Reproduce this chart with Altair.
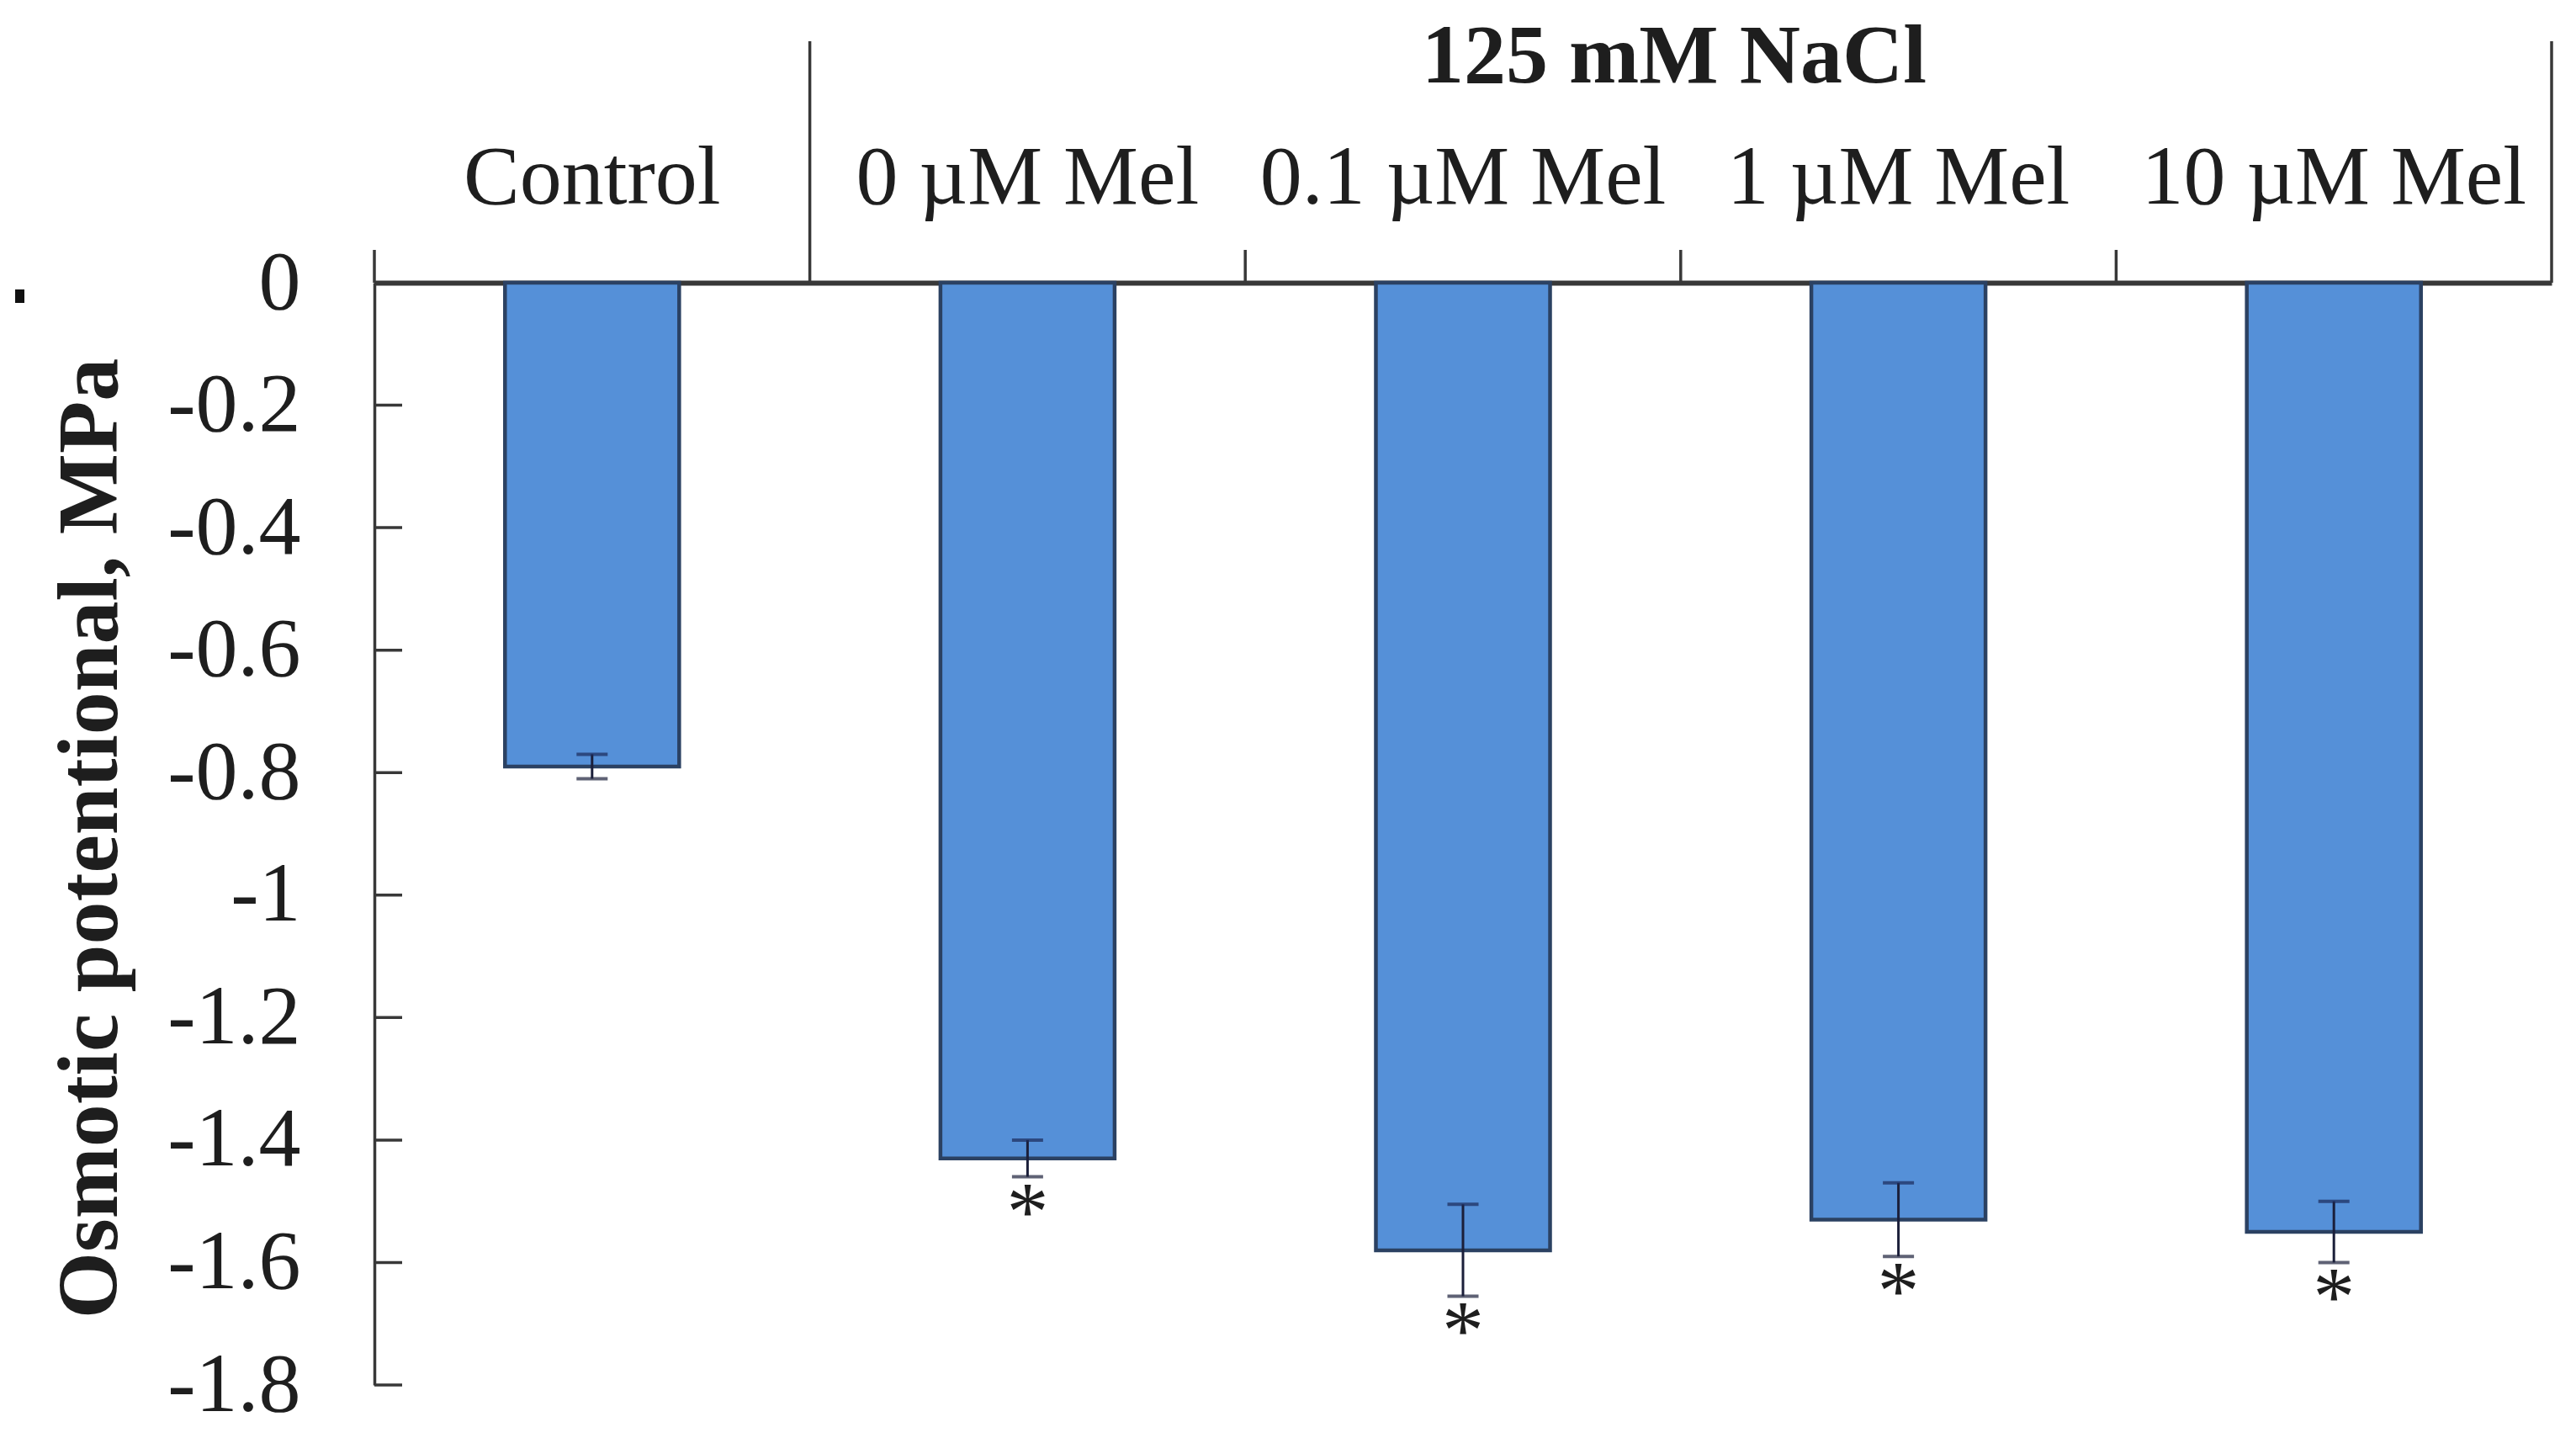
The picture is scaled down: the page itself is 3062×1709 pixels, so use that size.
import altair as alt
import pandas as pd

categories = ["Control", "0 µM Mel", "0.1 µM Mel", "1 µM Mel", "10 µM Mel"]
values = [-0.79, -1.43, -1.58, -1.53, -1.55]
errors = [0.02, 0.03, 0.075, 0.06, 0.05]
significance = ["", "*", "*", "*", "*"]
y_ticks = [0, -0.2, -0.4, -0.6, -0.8, -1.0, -1.2, -1.4, -1.6, -1.8]
group_label = "125 mM NaCl"
y_title = "Osmotic potentional, MPa"

FONT = "Liberation Serif"
INK = "#1e1e1e"
AXIS = "#383838"

df = pd.DataFrame({"cat": categories, "value": values, "err": errors, "sig": significance})
df["low"] = df["value"] - df["err"]
df["high"] = df["value"] + df["err"]
ticks_df = pd.DataFrame({"t": y_ticks})

W, H = 2588, 1310
PAD_INNER = 0.6
# half the gap between bars, in pixels: band edges sit this far outside each bar
HALF_GAP = (W / len(categories)) * PAD_INNER / 2

xscale = alt.Scale(domain=categories, paddingInner=PAD_INNER, paddingOuter=PAD_INNER / 2)
yscale = alt.Scale(domain=[-1.8, 0], nice=False, zero=False)

x_axis = alt.Axis(
    orient="top", title=None, labelAngle=0, labelFont=FONT, labelFontSize=100,
    labelColor=INK, labelPadding=95, labelBaseline="alphabetic", labelLimit=0,
    ticks=False, tickSize=0, domain=True, domainWidth=6, domainColor=AXIS, grid=False)
y_axis = alt.Axis(
    orient="left", values=y_ticks, title=y_title, grid=False, ticks=False, tickSize=0,
    labelExpr="datum.value == 0 ? '0' : '-' + format(-datum.value, '~g')",
    labelFont=FONT, labelFontSize=100, labelColor=INK, labelPadding=88, labelLimit=0,
    domain=True, domainWidth=3.5, domainColor=AXIS,
    titleFont=FONT, titleFontSize=102, titleFontWeight="bold", titleColor=INK,
    titleAngle=-90, titleX=-338, titleY=660, titleAlign="center",
    titleBaseline="middle", titleLimit=0)


def X(field="cat:N", **kw):
    return alt.X(field, sort=categories, scale=xscale, axis=x_axis, **kw)


def Y(field, **kw):
    return alt.Y(field, scale=yscale, axis=y_axis, **kw)


base = alt.Chart(df)

bars = base.mark_bar(color="#5590D8", stroke="#2B4162", strokeWidth=4.5).encode(
    x=X(), y=Y("value:Q"),
)

ytick_rules = alt.Chart(ticks_df).mark_rule(color=AXIS, strokeWidth=3.5).encode(
    y=Y("t:Q"), x=alt.value(0), x2=alt.value(33),
)

short_cats = pd.DataFrame({"cat": ["Control", "0.1 µM Mel", "1 µM Mel", "10 µM Mel"]})
short_ticks = alt.Chart(short_cats).mark_rule(
    color=AXIS, strokeWidth=3.5, xOffset=-HALF_GAP).encode(
    x=X(bandPosition=0), y=alt.value(-39), y2=alt.value(0),
)

long_start = alt.Chart(pd.DataFrame({"cat": ["0 µM Mel"]})).mark_rule(
    color=AXIS, strokeWidth=3.5, xOffset=-HALF_GAP).encode(
    x=X(bandPosition=0), y=alt.value(-287), y2=alt.value(0),
)
long_end = alt.Chart(pd.DataFrame({"cat": ["10 µM Mel"]})).mark_rule(
    color=AXIS, strokeWidth=3.5, xOffset=HALF_GAP).encode(
    x=X(bandPosition=1), y=alt.value(-287), y2=alt.value(0),
)

err_rule = base.mark_rule(color="#1b1f3a", strokeWidth=3).encode(
    x=X(), y=Y("low:Q"), y2="high:Q",
)
cap_low = base.mark_tick(color="#1b1f3a", size=37, thickness=4).encode(
    x=X(), y=Y("low:Q"),
)
cap_high = base.mark_tick(color="#1b2a5a", size=37, thickness=4).encode(
    x=X(), y=Y("high:Q"),
)

stars = base.mark_text(font=FONT, fontSize=100, color=INK, baseline="top", dy=-5).encode(
    x=X(), y=Y("low:Q"), text="sig:N",
)

group_text = alt.Chart(pd.DataFrame({"label": [group_label]})).mark_text(
    font=FONT, fontSize=100, fontWeight="bold", color=INK, baseline="alphabetic",
    align="center").encode(
    x=alt.value(1545), y=alt.value(-238), text="label:N",
)

stray = alt.Chart(pd.DataFrame({"k": [0]})).mark_rect(color="#111").encode(
    x=alt.value(-427), x2=alt.value(-416), y=alt.value(8), y2=alt.value(24),
)

chart = alt.layer(
    bars, err_rule, cap_low, cap_high, stars, ytick_rules, short_ticks,
    long_start, long_end, group_text, stray,
).properties(
    width=W, height=H,
    autosize=alt.AutoSizeParams(type="none"),
    padding={"left": 437, "top": 328, "right": 21, "bottom": 55},
    background="white",
).configure_view(stroke=None)

chart.save("out.html", embed_options={"renderer": "svg", "actions": False})
